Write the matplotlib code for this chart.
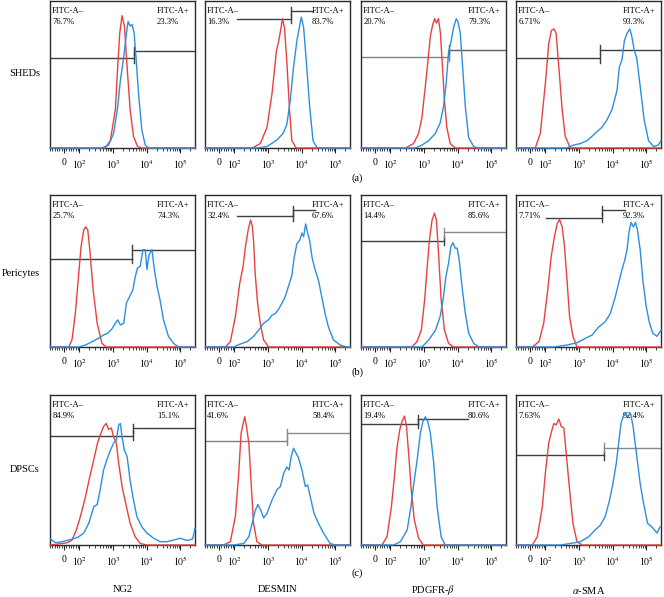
import numpy as np
import matplotlib
matplotlib.use("Agg")
import matplotlib.pyplot as plt

plt.rcParams['font.family'] = ['Liberation Serif', 'DejaVu Serif']
plt.rcParams['mathtext.fontset'] = 'stix'

# --- data: x in display decades (biexponential axis, 0 sits at ZERO_POS), y in % of panel height ---
cell_types = ['SHEDs', 'Pericytes', 'DPSCs']
markers = ['NG2', 'DESMIN', r'PDGFR-$\beta$', r'$\alpha$-SMA']

neg_pct = [['76.7%', '16.3%', '20.7%', '6.71%'],
           ['25.7%', '32.4%', '14.4%', '7.71%'],
           ['84.9%', '41.6%', '19.4%', '7.63%']]
pos_pct = [['23.3%', '83.7%', '79.3%', '93.3%'],
           ['74.3%', '67.6%', '85.6%', '92.3%'],
           ['15.1%', '58.4%', '80.6%', '92.4%']]

# SHEDs
shed_ng2_ctrl = [(1.14, 0), (2.77, 0), (2.92, 5), (3.07, 26), (3.14, 55), (3.20, 78), (3.27, 90), (3.34, 83),
                 (3.42, 55), (3.51, 26), (3.61, 8), (3.73, 1), (3.85, 0), (5.44, 0)]
shed_ng2_stain = [(1.14, 0), (2.67, 0), (2.87, 2), (3.02, 10), (3.14, 28), (3.22, 46), (3.32, 62), (3.40, 78),
                  (3.45, 86), (3.51, 83), (3.57, 84), (3.63, 78), (3.69, 60), (3.76, 37), (3.86, 12), (3.96, 2),
                  (4.06, 0), (5.44, 0)]
shed_des_ctrl = [(1.14, 0), (2.53, 0), (2.77, 3), (2.97, 14), (3.12, 37), (3.25, 66), (3.32, 73), (3.39, 82),
                 (3.43, 88), (3.49, 82), (3.56, 59), (3.64, 26), (3.71, 5), (3.84, 0), (5.44, 0)]
shed_des_stain = [(1.14, 0), (2.67, 0), (2.97, 1), (3.17, 4), (3.29, 6), (3.45, 10), (3.56, 16), (3.66, 32),
                  (3.76, 55), (3.86, 73), (3.94, 83), (3.99, 89), (4.06, 82), (4.14, 59), (4.24, 28), (4.34, 5),
                  (4.45, 0.5), (4.55, 0), (5.44, 0)]
shed_pdg_ctrl = [(1.14, 0), (2.45, 0), (2.69, 3), (2.84, 10), (2.94, 21), (3.04, 42), (3.12, 60), (3.19, 76),
                 (3.26, 84), (3.32, 88), (3.37, 85), (3.43, 88), (3.49, 78), (3.55, 55), (3.61, 32), (3.68, 14),
                 (3.78, 3), (3.93, 0), (5.44, 0)]
shed_pdg_stain = [(1.14, 0), (2.74, 0), (2.94, 2), (3.14, 5), (3.34, 10), (3.48, 17), (3.58, 28), (3.66, 44),
                  (3.73, 65), (3.81, 73), (3.88, 82), (3.96, 88), (4.01, 86), (4.08, 78), (4.15, 55), (4.23, 28),
                  (4.33, 7), (4.48, 1), (4.60, 0), (5.44, 0)]
shed_sma_ctrl = [(1.14, 0), (1.70, 0), (1.85, 10), (2.00, 44), (2.10, 71), (2.18, 80), (2.25, 81), (2.32, 78),
                 (2.40, 55), (2.50, 26), (2.59, 8), (2.74, 0), (5.44, 0)]
shed_sma_stain = [(1.14, 0), (2.64, 0), (2.84, 2), (3.04, 3), (3.24, 5), (3.39, 8), (3.48, 10), (3.68, 14),
                  (3.83, 19), (3.98, 26), (4.13, 39), (4.20, 55), (4.28, 60), (4.35, 73), (4.43, 78), (4.51, 81),
                  (4.57, 76), (4.64, 67), (4.72, 61), (4.82, 42), (4.94, 19), (5.07, 5), (5.22, 1), (5.36, 2),
                  (5.44, 5)]

# Pericytes
peri_ng2_ctrl = [(1.14, 0), (1.68, 0), (1.78, 4.6), (1.88, 22), (1.98, 48), (2.05, 66), (2.13, 77), (2.19, 79),
                 (2.25, 77), (2.31, 64), (2.41, 37.5), (2.53, 15.6), (2.67, 2.4), (2.80, 0), (5.44, 0)]
peri_ng2_stain = [(1.14, 0), (1.98, 0), (2.18, 1.3), (2.38, 3.5), (2.57, 5.7), (2.72, 7.9), (2.84, 9), (2.97, 12),
                  (3.07, 15.6), (3.14, 17.8), (3.22, 14.5), (3.32, 15.6), (3.40, 29), (3.49, 33), (3.59, 37.5),
                  (3.66, 46), (3.73, 52), (3.81, 53), (3.89, 64), (3.96, 64), (4.01, 51), (4.07, 60.5), (4.16, 64),
                  (4.23, 51), (4.31, 40), (4.40, 31), (4.50, 18), (4.65, 7), (4.80, 2.4), (4.95, 0), (5.44, 0)]
peri_des_ctrl = [(1.14, 0), (1.73, 0), (1.88, 3.5), (2.03, 20), (2.16, 42), (2.26, 53), (2.33, 66), (2.41, 77),
                 (2.48, 83.5), (2.53, 80), (2.57, 70), (2.62, 48), (2.69, 29), (2.77, 15.6), (2.87, 4.6),
                 (3.02, 0), (5.44, 0)]
peri_des_stain = [(1.14, 0), (1.98, 0), (2.18, 2), (2.38, 3.5), (2.57, 7), (2.72, 11), (2.87, 15.6), (3.02, 18),
                  (3.12, 21), (3.22, 22), (3.32, 25), (3.42, 29), (3.51, 33), (3.61, 40), (3.71, 47), (3.78, 59),
                  (3.86, 68), (3.94, 70), (4.01, 75), (4.06, 72.6), (4.12, 81), (4.18, 75), (4.24, 70), (4.31, 59),
                  (4.40, 51), (4.50, 44), (4.60, 33), (4.70, 22), (4.80, 13), (4.95, 4.6), (5.15, 1.3),
                  (5.34, 0), (5.44, 0)]
peri_pdg_ctrl = [(1.14, 0), (2.64, 0), (2.79, 3.5), (2.92, 11), (3.02, 31), (3.09, 51), (3.16, 70), (3.24, 83.5),
                 (3.31, 88), (3.37, 83.5), (3.44, 59), (3.51, 31), (3.61, 11), (3.73, 2.4), (3.88, 0), (5.44, 0)]
peri_pdg_stain = [(1.14, 0), (2.94, 0), (3.14, 4.6), (3.34, 11), (3.48, 20), (3.58, 33), (3.65, 46), (3.73, 55),
                  (3.80, 66), (3.86, 68.6), (3.93, 65), (3.99, 65), (4.06, 55), (4.13, 40), (4.23, 22),
                  (4.33, 9), (4.48, 2.4), (4.63, 0), (5.44, 0)]
peri_sma_ctrl = [(1.14, 0), (1.61, 0), (1.81, 3.5), (1.95, 15.6), (2.07, 37.5), (2.17, 59), (2.27, 72.6),
                 (2.35, 81), (2.42, 84), (2.50, 79), (2.57, 66), (2.65, 42), (2.72, 20), (2.82, 7), (2.94, 0),
                 (5.44, 0)]
peri_sma_stain = [(1.14, 0), (2.25, 0), (2.65, 1.3), (2.94, 2.8), (3.19, 5.7), (3.39, 7.9), (3.58, 13),
                  (3.78, 16.6), (3.93, 22), (4.08, 33), (4.18, 42), (4.28, 51), (4.36, 57), (4.43, 64), (4.49, 76),
                  (4.55, 82), (4.62, 79), (4.68, 82), (4.74, 77), (4.82, 64), (4.90, 44), (5.00, 26.5),
                  (5.10, 15.6), (5.20, 9), (5.32, 7), (5.44, 11)]

# DPSCs
dpsc_ng2_ctrl = [(1.14, 0), (1.49, 1), (1.64, 1.5), (1.78, 3.3), (1.91, 10), (2.03, 19), (2.18, 32), (2.31, 45.5),
                 (2.43, 57), (2.54, 68), (2.64, 74.5), (2.72, 79), (2.80, 81), (2.87, 77), (2.95, 78), (3.02, 72),
                 (3.10, 68), (3.17, 54.5), (3.27, 39), (3.40, 25.5), (3.51, 14.5), (3.66, 5.5), (3.81, 1),
                 (4.01, 0), (5.44, 0)]
dpsc_ng2_stain = [(1.14, 4), (1.29, 1.5), (1.49, 2.2), (1.68, 3.3), (1.81, 4), (1.98, 5.5), (2.13, 8), (2.28, 14.5),
                  (2.43, 25.5), (2.53, 27), (2.62, 37), (2.72, 50), (2.82, 57), (2.92, 63), (3.02, 68), (3.10, 70),
                  (3.17, 80), (3.22, 81), (3.27, 72), (3.34, 63), (3.42, 59), (3.51, 43), (3.61, 30), (3.71, 19),
                  (3.86, 12), (4.01, 8), (4.21, 4.5), (4.40, 2.2), (4.60, 2.2), (4.80, 3.3), (5.00, 4.5),
                  (5.20, 3), (5.37, 4), (5.44, 11)]
dpsc_des_ctrl = [(1.14, 0), (1.68, 0), (1.88, 2.2), (2.03, 19), (2.13, 48), (2.20, 74.5), (2.26, 81), (2.31, 85.5),
                 (2.36, 79), (2.43, 68), (2.50, 41), (2.57, 14.5), (2.67, 2.2), (2.82, 0), (5.44, 0)]
dpsc_des_stain = [(1.14, 0), (1.98, 0), (2.28, 1), (2.43, 5.5), (2.53, 14.5), (2.62, 23), (2.70, 27), (2.79, 23),
                  (2.87, 18), (2.97, 21), (3.12, 30), (3.27, 37), (3.37, 39), (3.47, 48), (3.56, 52), (3.63, 50),
                  (3.69, 59), (3.76, 64.5), (3.84, 61), (3.91, 58), (4.01, 50), (4.11, 39), (4.18, 40), (4.26, 32),
                  (4.37, 21), (4.50, 14.5), (4.65, 8), (4.85, 1), (5.00, 0), (5.44, 0)]
dpsc_pdg_ctrl = [(1.14, 0), (1.75, 0), (1.90, 5.5), (2.03, 25.5), (2.12, 45.5), (2.20, 65.5), (2.28, 77),
                 (2.35, 82.5), (2.42, 86), (2.48, 79), (2.55, 59), (2.62, 37), (2.71, 17), (2.84, 4.5), (2.98, 0),
                 (5.44, 0)]
dpsc_pdg_stain = [(1.14, 0), (2.10, 0), (2.30, 2.2), (2.50, 10), (2.61, 25.5), (2.71, 43), (2.81, 59), (2.89, 74.5),
                  (2.97, 82.5), (3.04, 85.5), (3.11, 82.5), (3.19, 74.5), (3.29, 54.5), (3.39, 25.5), (3.51, 5.5),
                  (3.63, 0), (5.44, 0)]
dpsc_sma_ctrl = [(1.14, 0), (1.61, 0), (1.76, 5.5), (1.91, 25.5), (2.00, 48), (2.10, 68), (2.17, 74.5), (2.25, 81),
                 (2.32, 80), (2.40, 84), (2.47, 79), (2.55, 78), (2.62, 61), (2.72, 37), (2.82, 14.5), (2.94, 2.2),
                 (3.09, 0), (5.44, 0)]
dpsc_sma_stain = [(1.14, 0), (2.45, 0), (2.74, 1), (3.04, 2.2), (3.29, 5.5), (3.48, 10), (3.63, 13), (3.78, 19),
                  (3.91, 30), (4.01, 41), (4.11, 54.5), (4.18, 68), (4.25, 81), (4.31, 85.5), (4.38, 88),
                  (4.45, 85.5), (4.53, 88), (4.61, 79), (4.72, 59), (4.82, 41), (4.92, 28), (5.04, 14.5),
                  (5.17, 12), (5.32, 8), (5.41, 12)]

controls = [[shed_ng2_ctrl, shed_des_ctrl, shed_pdg_ctrl, shed_sma_ctrl],
            [peri_ng2_ctrl, peri_des_ctrl, peri_pdg_ctrl, peri_sma_ctrl],
            [dpsc_ng2_ctrl, dpsc_des_ctrl, dpsc_pdg_ctrl, dpsc_sma_ctrl]]
stains = [[shed_ng2_stain, shed_des_stain, shed_pdg_stain, shed_sma_stain],
          [peri_ng2_stain, peri_des_stain, peri_pdg_stain, peri_sma_stain],
          [dpsc_ng2_stain, dpsc_des_stain, dpsc_pdg_stain, dpsc_sma_stain]]

# gates: (start of negative gate or None = left edge, split, end of positive gate or None = right edge, y neg, y pos)
gates = [[(None, 3.64, None, 61, 66), (2.08, 3.68, 4.31, 88, 93), (None, 3.73, None, 62, 67), (None, 3.63, None, 61, 67)],
         [(None, 3.58, None, 58, 64), (2.08, 3.74, 4.40, 86, 90), (None, 3.61, None, 70, 75.5), (2.03, 3.68, 4.37, 85, 90)],
         [(None, 3.61, None, 73, 78), (None, 3.56, None, 69.5, 74.5), (None, 2.81, 4.30, 81, 84), (None, 3.74, None, 60, 65)]]
gate_gray = [[('#3a3f46', '#3a3f46'), ('#3a3f46', '#3a3f46'), ('#7d838b', '#5a6068'), ('#3a3f46', '#3a3f46')],
             [('#3a3f46', '#3a3f46'), ('#3a3f46', '#3a3f46'), ('#3a3f46', '#868c94'), ('#3a3f46', '#3a3f46')],
             [('#3a3f46', '#3a3f46'), ('#7d838b', '#868c94'), ('#3a3f46', '#3a3f46'), ('#3a3f46', '#868c94')]]

# --- layout (pixels of the 664x597 figure) ---
W, H = 664, 597
X_MIN, X_MAX = 1.14, 5.44
ZERO_POS = 1.54
col_left = [50, 205, 361, 516]
panel_w = 145
row_top = [1, 195, 395]
row_bottom = [148, 347, 545]
RED = '#e8413f'
BLUE = '#2b8fe0'

# biexponential style ticks
major_ticks = [ZERO_POS, 2, 3, 4, 5]
major_labels = ['0', '$10^2$', '$10^3$', '$10^4$', '$10^5$']
lin_vals = np.arange(-90, 100, 15)
minor_ticks = list(ZERO_POS + lin_vals * (2 - ZERO_POS) / 100)
for n in [2, 3, 4]:
    minor_ticks += list(np.log10(np.arange(2, 10) * 10.0 ** n))
minor_ticks += list(np.log10(np.arange(2, 3) * 1e5))

fig = plt.figure(figsize=(W / 100, H / 100), dpi=100)

for r in range(3):
    h_px = row_bottom[r] - row_top[r]
    for c in range(4):
        ax = fig.add_axes([col_left[c] / W, 1 - row_bottom[r] / H, panel_w / W, h_px / H])
        ax.set_xlim(X_MIN, X_MAX)
        ax.set_ylim(0, 100)
        ax.set_yticks([])
        ax.set_xticks(major_ticks)
        ax.set_xticklabels(major_labels)
        ax.set_xticks(minor_ticks, minor=True)
        ax.tick_params(axis='x', which='major', direction='out', length=3.5, width=0.8, pad=3.5,
                       labelsize=7, color='#222222')
        ax.tick_params(axis='x', which='minor', direction='out', length=2, width=0.6, color='#222222')
        for s in ax.spines.values():
            s.set_linewidth(1.0)
            s.set_color('#2a2a2a')

        # gates
        g0, split, g1, yn, yp = gates[r][c]
        cn, cp = gate_gray[r][c]
        x0 = X_MIN if g0 is None else g0
        x1 = X_MAX if g1 is None else g1
        ax.plot([x0, split], [yn, yn], color=cn, lw=1.0, zorder=2)
        ax.plot([split, split], [yn - 3, yn + 3], color=cn, lw=1.0, zorder=2)
        ax.plot([split, x1], [yp, yp], color=cp, lw=1.0, zorder=2)
        ax.plot([split, split], [yp - 3, yp + 3], color=cp, lw=1.0, zorder=2)

        # histograms
        cx, cy = zip(*controls[r][c])
        sx, sy = zip(*stains[r][c])
        ax.plot(cx, cy, color=RED, lw=1.0, zorder=3, clip_on=False)
        ax.plot(sx, sy, color=BLUE, lw=1.0, zorder=3.1, clip_on=False)

        # gate labels
        y1 = 1 - 10 / h_px
        y2 = 1 - 21 / h_px
        ax.text(0.015, y1, 'FITC-A\u2013', transform=ax.transAxes, ha='left', va='center', fontsize=6.2)
        ax.text(0.015, y2, neg_pct[r][c], transform=ax.transAxes, ha='left', va='center', fontsize=6.2)
        ax.text(0.738, y1, 'FITC-A+', transform=ax.transAxes, ha='left', va='center', fontsize=6.2)
        ax.text(0.738, y2, pos_pct[r][c], transform=ax.transAxes, ha='left', va='center', fontsize=6.2)

# row labels
for r, (name, ypx) in enumerate(zip(cell_types, [74, 273, 470])):
    fig.text(40 / W, 1 - ypx / H, name, ha='right', va='center', fontsize=7.5)

# panel letters
for letter, ypx in zip(['(a)', '(b)', '(c)'], [178, 372, 573]):
    fig.text(357 / W, 1 - ypx / H, letter, ha='center', va='center', fontsize=7.5)

# marker names
for c, name in enumerate(markers):
    fig.text((col_left[c] + panel_w / 2) / W, 1 - 590 / H, name, ha='center', va='center', fontsize=7.5)

fig.savefig('out.png', dpi=100)
